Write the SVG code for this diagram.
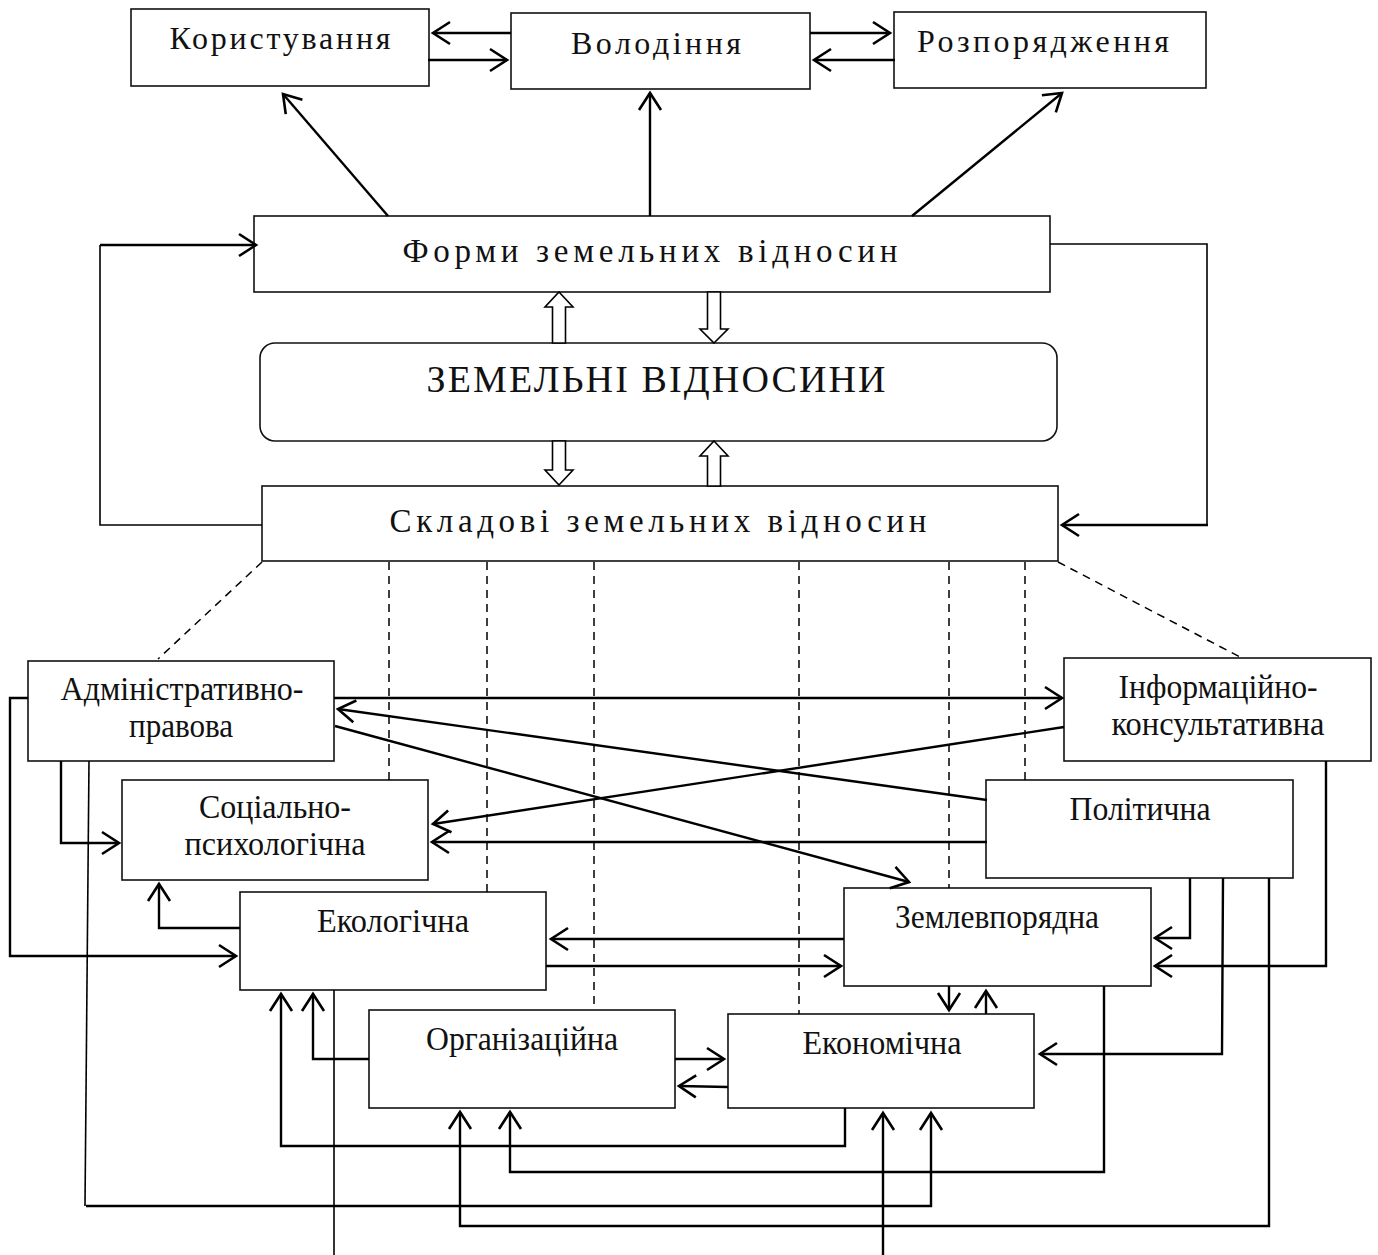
<svg xmlns="http://www.w3.org/2000/svg" width="1378" height="1255" viewBox="0 0 1378 1255">
<style>
.box{fill:#fff;stroke:#111;stroke-width:1.6}
.t{font-family:"Liberation Serif","Times New Roman",serif;fill:#111;text-anchor:middle}
.big{font-size:32px}
.mid{font-size:33px}
.huge{font-size:38px}
.low{font-size:34px}
.c{fill:none;stroke:#000;stroke-width:2.4}
.thin{fill:none;stroke:#000;stroke-width:1.6}
.a{marker-end:url(#ah)}
.d{fill:none;stroke:#000;stroke-width:1.5;stroke-dasharray:8 6}
.h{fill:#fff;stroke:#000;stroke-width:1.6}
</style>
<defs>
<marker id="ah" markerUnits="userSpaceOnUse" markerWidth="22" markerHeight="26" viewBox="0 0 22 26" refX="19" refY="13" orient="auto">
<path d="M2,2 L19,13 L2,24" fill="none" stroke="#000" stroke-width="2.6"/>
</marker>
</defs>
<rect width="1378" height="1255" fill="#fff"/>

<g id="koryst"><rect class="box" x="131" y="9" width="298" height="77"/><text class="t big" x="280" y="49" textLength="221" lengthAdjust="spacing">Користування</text></g>
<g id="volod"><rect class="box" x="511" y="13" width="299" height="76"/><text class="t big" x="656" y="54" textLength="170" lengthAdjust="spacing">Володіння</text></g>
<g id="rozpor"><rect class="box" x="894" y="12" width="312" height="76"/><text class="t big" x="1043" y="52" textLength="252" lengthAdjust="spacing">Розпорядження</text></g>
<g id="formy"><rect class="box" x="254" y="216" width="796" height="76"/><text class="t mid" x="650" y="262" textLength="495" lengthAdjust="spacing">Форми земельних відносин</text></g>
<g id="zemvid"><rect class="box" x="260" y="343" width="797" height="98" rx="15"/><text class="t huge" x="656" y="392" textLength="459" lengthAdjust="spacing">ЗЕМЕЛЬНІ ВІДНОСИНИ</text></g>
<g id="skladovi"><rect class="box" x="262" y="486" width="796" height="75"/><text class="t mid" x="658" y="532" textLength="537" lengthAdjust="spacing">Складові земельних відносин</text></g>

<g id="adm"><rect class="box" x="28" y="661" width="306" height="100"/><text class="t low" x="182" y="700" textLength="243" lengthAdjust="spacingAndGlyphs">Адміністративно-</text><text class="t low" x="181" y="737" textLength="104" lengthAdjust="spacingAndGlyphs">правова</text></g>
<g id="inf"><rect class="box" x="1064" y="658" width="307" height="103"/><text class="t low" x="1218" y="698" textLength="199" lengthAdjust="spacingAndGlyphs">Інформаційно-</text><text class="t low" x="1218" y="735" textLength="213" lengthAdjust="spacingAndGlyphs">консультативна</text></g>
<g id="soc"><rect class="box" x="122" y="780" width="306" height="100"/><text class="t low" x="275" y="818" textLength="152" lengthAdjust="spacingAndGlyphs">Соціально-</text><text class="t low" x="275" y="855" textLength="181" lengthAdjust="spacingAndGlyphs">психологічна</text></g>
<g id="polit"><rect class="box" x="986" y="780" width="307" height="98"/><text class="t low" x="1140" y="820" textLength="141" lengthAdjust="spacingAndGlyphs">Політична</text></g>
<g id="ekol"><rect class="box" x="240" y="892" width="306" height="98"/><text class="t low" x="393" y="932" textLength="152" lengthAdjust="spacingAndGlyphs">Екологічна</text></g>
<g id="zemlev"><rect class="box" x="844" y="888" width="307" height="98"/><text class="t low" x="997" y="928" textLength="204" lengthAdjust="spacingAndGlyphs">Землевпорядна</text></g>
<g id="org"><rect class="box" x="369" y="1010" width="306" height="98"/><text class="t low" x="522" y="1050" textLength="192" lengthAdjust="spacingAndGlyphs">Організаційна</text></g>
<g id="ekon"><rect class="box" x="728" y="1014" width="306" height="94"/><text class="t low" x="882" y="1054" textLength="159" lengthAdjust="spacingAndGlyphs">Економічна</text></g>

<g id="connectors">
<line class="c a" x1="511" y1="33" x2="433" y2="33"/>
<line class="c a" x1="428" y1="60" x2="507" y2="60"/>
<line class="c a" x1="810" y1="33" x2="890" y2="33"/>
<line class="c a" x1="895" y1="60" x2="814" y2="60"/>
<line class="c a" x1="388" y1="216" x2="283" y2="94"/>
<line class="c a" x1="650" y1="216" x2="650" y2="93"/>
<line class="c a" x1="912" y1="216" x2="1062" y2="93"/>
<polyline class="thin" points="262,525 100,525 100,245"/>
<line class="c a" x1="100" y1="245" x2="256" y2="245"/>
<polyline class="thin" points="1050,244 1207,244 1207,525"/>
<line class="c a" x1="1208" y1="525" x2="1062" y2="525"/>
<polygon class="h" points="559,292 573,307 565.5,307 565.5,343 552.5,343 552.5,307 545,307"/>
<polygon class="h" points="714,343 728,329 720.5,329 720.5,292 707.5,292 707.5,329 700,329"/>
<polygon class="h" points="559,485 573,470 565.5,470 565.5,441 552.5,441 552.5,470 545,470"/>
<polygon class="h" points="714,441 728,456 720.5,456 720.5,486 707.5,486 707.5,456 700,456"/>
<line class="d" x1="262" y1="562" x2="158" y2="659"/>
<line class="d" x1="1058" y1="562" x2="1240" y2="657"/>
<line class="d" x1="389" y1="562" x2="389" y2="780"/>
<line class="d" x1="487" y1="562" x2="487" y2="892"/>
<line class="d" x1="594" y1="562" x2="594" y2="1010"/>
<line class="d" x1="799" y1="562" x2="799" y2="1014"/>
<line class="d" x1="949" y1="562" x2="949" y2="888"/>
<line class="d" x1="1025" y1="562" x2="1025" y2="780"/>
<line class="c a" x1="334" y1="698" x2="1062" y2="698"/>
<line class="c a" x1="987" y1="800" x2="338" y2="709"/>
<line class="c a" x1="335" y1="726" x2="909" y2="882"/>
<line class="c a" x1="1064" y1="727" x2="433" y2="824"/>
<line class="c a" x1="987" y1="842" x2="432" y2="842"/>
<polyline class="c a" points="28,698 10,698 10,956 236,956"/>
<polyline class="c a" points="61,761 61,843 119,843"/>
<polyline class="thin" points="89,761 85,1206"/>
<polyline class="c a" points="86,1206 931,1206 931,1113"/>
<polyline class="c a" points="240,928 159,928 159,884"/>
<line class="c a" x1="844" y1="939" x2="551" y2="939"/>
<line class="c a" x1="546" y1="966" x2="841" y2="966"/>
<line class="thin" x1="334" y1="990" x2="334" y2="1255"/>
<polyline class="c a" points="845,1108 845,1146 281,1146 281,994"/>
<polyline class="c a" points="369,1059 313,1059 313,994"/>
<line class="c a" x1="675" y1="1059" x2="724" y2="1059"/>
<line class="c a" x1="728" y1="1087" x2="679" y2="1086"/>
<line class="c a" x1="949" y1="986" x2="949" y2="1010"/>
<line class="c a" x1="986" y1="1014" x2="986" y2="991"/>
<polyline class="c a" points="1104,986 1104,1172 510,1172 510,1112"/>
<polyline class="c a" points="1190,878 1190,938 1155,938"/>
<polyline class="c a" points="1326,761 1326,966 1155,966"/>
<polyline class="c a" points="1223,878 1222,1054 1040,1054"/>
<polyline class="c a" points="1269,878 1269,1226 460,1226 460,1112"/>
<line class="c a" x1="883" y1="1255" x2="883" y2="1113"/>
</g>
</svg>
